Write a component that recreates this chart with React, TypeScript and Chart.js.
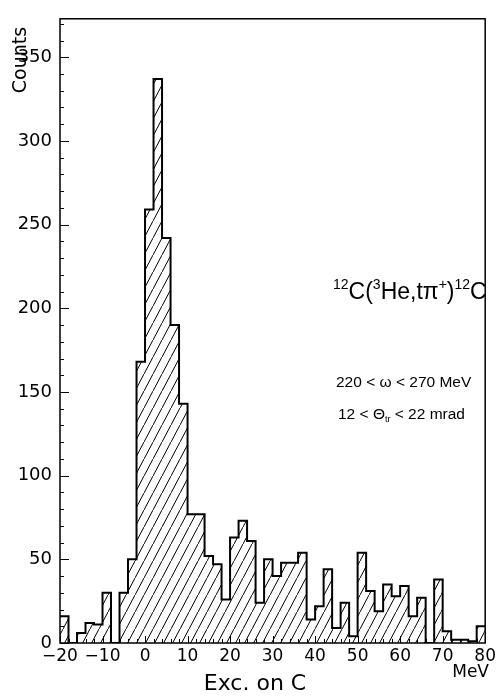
import React, { useEffect, useRef } from "react";
import { Chart, registerables } from "chart.js";

Chart.register(...registerables);

// ---- data ----
const BIN_START = -20; // MeV, left edge of first bin
const BIN_WIDTH = 2; // MeV
const counts = [
  16, 0, 6, 12, 11, 30, 0, 30, 50, 168,
  259, 337, 242, 190, 143, 77, 77, 52, 47, 26,
  63, 73, 61, 24, 50, 40, 48, 48, 54, 14,
  22, 44, 9, 24, 4, 54, 31, 19, 35, 28,
  34, 16, 27, 0, 38, 7, 2, 2, 1, 10,
];
const xTickValues = [-20, -10, 0, 10, 20, 30, 40, 50, 60, 70, 80];
const yTickValues = [0, 50, 100, 150, 200, 250, 300, 350];
const X_MIN = -20;
const X_MAX = 80;
const Y_MIN = 0;
const Y_MAX = 373;
const yTitle = "Counts";
const xTitle = "Exc. on C";
const xUnit = "MeV";
const reactionParts = [
  { t: "12", sup: true },
  { t: "C(" },
  { t: "3", sup: true },
  { t: "He,t\u03C0" },
  { t: "+", sup: true },
  { t: ")" },
  { t: "12", sup: true },
  { t: "C" },
];
const omegaLine = [{ t: "220 < \u03C9 < 270 MeV" }];
const thetaLine = [{ t: "12 < \u0398" }, { t: "tr", sub: true }, { t: " < 22 mrad" }];

const FONT = "'Liberation Sans', Arial, sans-serif";
const TICK_FONT = "'DejaVu Sans', sans-serif";

function makeHatch(): CanvasPattern | string {
  const W = 9;
  const H = 17;
  const c = document.createElement("canvas");
  c.width = W;
  c.height = H;
  const g = c.getContext("2d");
  if (!g) return "rgba(0,0,0,0)";
  g.strokeStyle = "#000";
  g.lineWidth = 1;
  g.beginPath();
  g.moveTo(-1, H + H / W);
  g.lineTo(W + 1, -H / W);
  g.stroke();
  const p = g.createPattern(c, "repeat");
  return p || "rgba(0,0,0,0)";
}

function drawRich(ctx: CanvasRenderingContext2D, parts: any[], x: number, y: number, size: number) {
  let cx = x;
  for (const p of parts) {
    const s = p.sup || p.sub ? Math.round(size * 0.6) : size;
    ctx.font = `${s}px ${FONT}`;
    const dy = p.sup ? -size * 0.42 : p.sub ? size * 0.22 : 0;
    ctx.fillText(p.t, cx, y + dy);
    cx += ctx.measureText(p.t).width;
  }
}

const decorPlugin = {
  id: "decor",
  afterDraw(chart: any) {
    const { ctx, chartArea: a, scales } = chart;
    const xs = scales.x;
    const ys = scales.y;
    ctx.save();
    ctx.strokeStyle = "#000";
    ctx.fillStyle = "#000";
    ctx.lineWidth = 1.5;
    ctx.strokeRect(a.left, a.top, a.right - a.left, a.bottom - a.top);

    ctx.lineWidth = 1;
    ctx.beginPath();
    for (let v = X_MIN; v <= X_MAX; v += BIN_WIDTH) {
      const px = Math.round(xs.getPixelForValue(v)) + 0.5;
      const len = v % 10 === 0 ? 7 : 4;
      ctx.moveTo(px, a.bottom);
      ctx.lineTo(px, a.bottom - len);
    }
    for (let v = Y_MIN; v <= Y_MAX; v += 10) {
      const py = Math.round(ys.getPixelForValue(v)) + 0.5;
      const len = v % 50 === 0 ? 9 : 4;
      ctx.moveTo(a.left, py);
      ctx.lineTo(a.left + len, py);
    }
    ctx.stroke();

    // y title (rotated)
    ctx.save();
    ctx.translate(26, 60);
    ctx.rotate(-Math.PI / 2);
    ctx.font = `19px ${TICK_FONT}`;
    ctx.textAlign = "center";
    ctx.textBaseline = "alphabetic";
    ctx.fillText(yTitle, 0, 0);
    ctx.restore();

    // x title
    ctx.font = `22px ${TICK_FONT}`;
    ctx.textAlign = "center";
    ctx.textBaseline = "alphabetic";
    ctx.fillText(xTitle, 255, 690);

    // unit
    ctx.font = `17px ${TICK_FONT}`;
    ctx.textAlign = "right";
    ctx.fillText(xUnit, 489, 677);

    // annotations
    ctx.textAlign = "left";
    drawRich(ctx, reactionParts, 333, 299, 23);
    drawRich(ctx, omegaLine, 336, 387, 15.5);
    drawRich(ctx, thetaLine, 338, 419, 15.5);
    ctx.restore();
  },
};

export default function App() {
  const ref = useRef<HTMLCanvasElement | null>(null);
  useEffect(() => {
    document.body.style.margin = "0";
    const canvas = ref.current;
    if (!canvas) return;
    const points = counts.map((c, i) => ({ x: BIN_START + i * BIN_WIDTH, y: c }));
    points.push({ x: BIN_START + counts.length * BIN_WIDTH, y: counts[counts.length - 1] });
    const chart = new Chart(canvas, {
      type: "line",
      data: {
        datasets: [
          {
            data: points,
            stepped: "before",
            fill: "origin",
            backgroundColor: makeHatch() as any,
            borderColor: "#000",
            borderWidth: 2,
            pointRadius: 0,
            tension: 0,
          },
        ],
      },
      options: {
        responsive: false,
        animation: false,
        devicePixelRatio: 1,
        layout: { padding: { top: 8, right: 10, left: 0, bottom: 0 } },
        plugins: { legend: { display: false }, tooltip: { enabled: false } },
        scales: {
          x: {
            type: "linear",
            min: X_MIN,
            max: X_MAX,
            grid: { display: false, drawTicks: false },
            border: { display: false },
            afterBuildTicks: (s: any) => {
              s.ticks = xTickValues.map((v) => ({ value: v }));
            },
            afterFit: (s: any) => {
              s.height = 54;
            },
            ticks: {
              autoSkip: false,
              maxRotation: 0,
              padding: 3,
              color: "#000",
              font: { family: TICK_FONT, size: 17 },
              callback: (v: any) => String(v).replace("-", "\u2212"),
            },
          },
          y: {
            type: "linear",
            min: Y_MIN,
            max: Y_MAX,
            grid: { display: false, drawTicks: false },
            border: { display: false },
            afterBuildTicks: (s: any) => {
              s.ticks = yTickValues.map((v) => ({ value: v }));
            },
            afterFit: (s: any) => {
              s.width = 60;
            },
            ticks: {
              padding: 8,
              color: "#000",
              font: { family: TICK_FONT, size: 18 },
            },
          },
        },
      },
      plugins: [decorPlugin],
    });
    return () => chart.destroy();
  }, []);
  return <canvas ref={ref} width={499} height={697} style={{ display: "block", width: 499, height: 697 }} />;
}
